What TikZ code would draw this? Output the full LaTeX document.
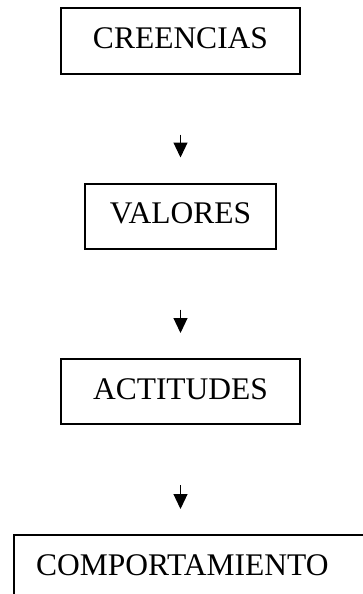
\documentclass[tikz,border=0pt]{standalone}
\usepackage{fontspec}
\setmainfont{Liberation Serif}
\usepackage{tikz}
\usetikzlibrary{arrows.meta, positioning}
\tikzset{
    % Box style - plain rectangles
    stage/.style={
        rectangle,
        draw=black,
        fill=white,
        line width=2pt,
        minimum height=65pt,
        inner sep=0pt,
        text depth=5pt,
        align=center,
        font=\fontsize{31.5}{36}\selectfont
    },
    % Arrow style - short floating arrows
    arrow/.style={
        -{Triangle[length=15pt,width=14pt]},
        line width=1.2pt,
        draw=black,
        shorten <=60pt,
        shorten >=25pt
    }
}
\begin{document}
\begin{tikzpicture}[x=1pt, y=-1pt]
    \useasboundingbox (0,0) rectangle (363,594);
    \clip (0,0) rectangle (363,594);

    % Stages
    \node[stage, minimum width=239pt] (cre) at (180.5,41) {CREENCIAS};
    \node[stage, minimum width=191pt] (val) at (180.5,216) {VALORES};
    \node[stage, minimum width=239pt] (act) at (180.5,391.5) {ACTITUDES};
    \node[stage, anchor=north west, text width=330pt, align=left, inner xsep=22pt] (com) at (13,534) {COMPORTAMIENTO};

    % Arrows between stages
    \draw[arrow] (cre) -- (val);
    \draw[arrow] (val) -- (act);
    \draw[arrow] (act.south) -- (act.south |- com.north);
\end{tikzpicture}
\end{document}
